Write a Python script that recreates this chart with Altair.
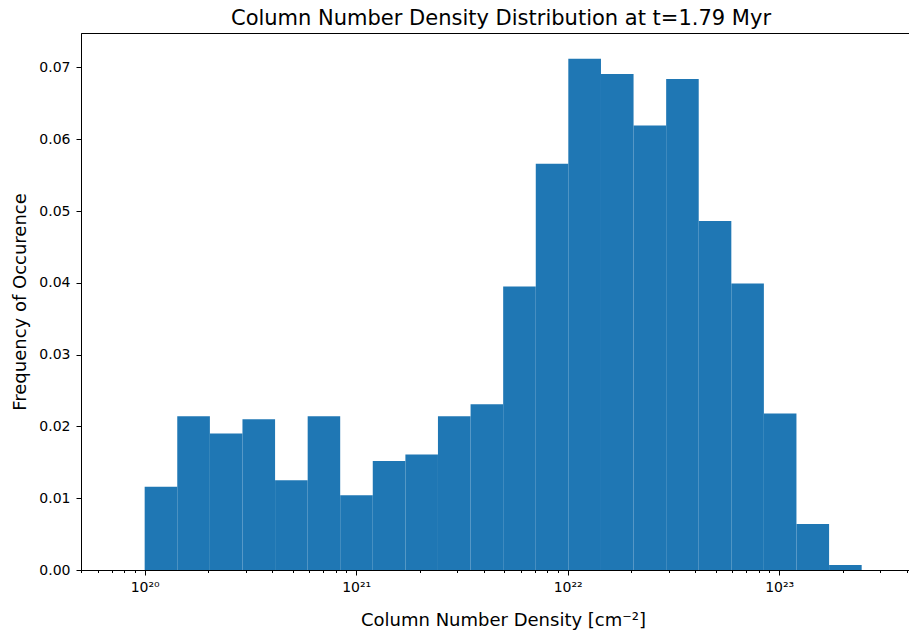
import altair as alt
import pandas as pd

# Bin edges (log-spaced) of the histogram, in cm^-2
bin_lo = [1.000e20, 1.426e20, 2.034e20, 2.900e20, 4.136e20, 5.898e20, 8.404e20,
          1.198e21, 1.709e21, 2.436e21, 3.475e21, 4.955e21, 7.066e21,
          1.007e22, 1.437e22, 2.049e22, 2.922e22, 4.165e22, 5.940e22, 8.466e22,
          1.207e23, 1.722e23]
bin_hi = [1.426e20, 2.034e20, 2.900e20, 4.136e20, 5.898e20, 8.404e20,
          1.198e21, 1.709e21, 2.436e21, 3.475e21, 4.955e21, 7.066e21,
          1.007e22, 1.437e22, 2.049e22, 2.922e22, 4.165e22, 5.940e22, 8.466e22,
          1.207e23, 1.722e23, 2.455e23]
freq = [0.0116, 0.0214, 0.0190, 0.0210, 0.0125, 0.0214, 0.0104, 0.0152,
        0.0161, 0.0214, 0.0231, 0.0395, 0.0566, 0.0712, 0.0691, 0.0619,
        0.0684, 0.0486, 0.0399, 0.0218, 0.0064, 0.0007]

y_ticks = [0.0, 0.01, 0.02, 0.03, 0.04, 0.05, 0.06, 0.07]
x_domain = [5.0e19, 4.11e23]
mantissas = [1, 2, 3, 4, 5, 6, 7, 8, 9]
decades = [19, 20, 21, 22, 23]
x_ticks = [m * 10.0 ** d for d in decades for m in mantissas
           if x_domain[0] * 0.999 <= m * 10.0 ** d <= x_domain[1]]

df = pd.DataFrame({"lo": bin_lo, "hi": bin_hi, "freq": freq})

FONT = "DejaVu Sans"
is_major = "abs(log(datum.value)/LN10 - round(log(datum.value)/LN10)) < 1e-6"
sup = "['⁰','¹','²','³','⁴','⁵','⁶','⁷','⁸','⁹']"
label_expr = (
    f"({is_major}) ? '10' + {sup}[floor(round(log(datum.value)/LN10)/10)] + "
    f"{sup}[round(log(datum.value)/LN10) % 10] : ''"
)

chart = alt.Chart(df).mark_rect(color="#1f77b4", strokeWidth=0).encode(
    x=alt.X(
        "lo:Q",
        scale=alt.Scale(type="log", domain=x_domain, nice=False),
        axis=alt.Axis(
            values=x_ticks,
            labelExpr=label_expr,
            tickSize={"condition": {"test": is_major, "value": 5}, "value": 2.5},
            labelPadding=5,
            labelFontSize=14,
            labelFont=FONT,
            labelColor="black",
            labelOverlap=False,
            grid=False,
            domainColor="black",
            tickColor="black",
            title="Column Number Density [cm⁻²]",
            titleFont=FONT,
            titleFontSize=18,
            titleFontWeight="normal",
            titleColor="black",
            titleX=422,
            titleY=55,
            titleAlign="center",
            titleBaseline="alphabetic",
        ),
    ),
    x2="hi:Q",
    y=alt.Y(
        "freq:Q",
        scale=alt.Scale(domain=[0, 0.0748], nice=False),
        axis=alt.Axis(
            values=y_ticks,
            format=".2f",
            tickSize=5,
            labelPadding=6,
            labelFontSize=14,
            labelFont=FONT,
            labelColor="black",
            grid=False,
            domainColor="black",
            tickColor="black",
            title="Frequency of Occurence",
            titleFont=FONT,
            titleFontSize=18,
            titleFontWeight="normal",
            titleColor="black",
            titleX=-56,
            titleY=268.5,
            titleAngle=270,
            titleAlign="center",
            titleBaseline="alphabetic",
        ),
    ),
    y2=alt.datum(0),
).properties(
    width=828,
    height=537,
    background="white",
    padding={"left": 73, "top": 25, "right": 0, "bottom": 60},
    autosize=alt.AutoSizeParams(type="none"),
    title=alt.TitleParams(
        "Column Number Density Distribution at t=1.79 Myr",
        font=FONT,
        fontSize=21,
        fontWeight="normal",
        color="black",
        offset=4,
        dx=6,
    ),
).configure_view(
    stroke="black", strokeWidth=1
)

chart.save("out.html", embed_options={"renderer": "svg", "actions": False})
